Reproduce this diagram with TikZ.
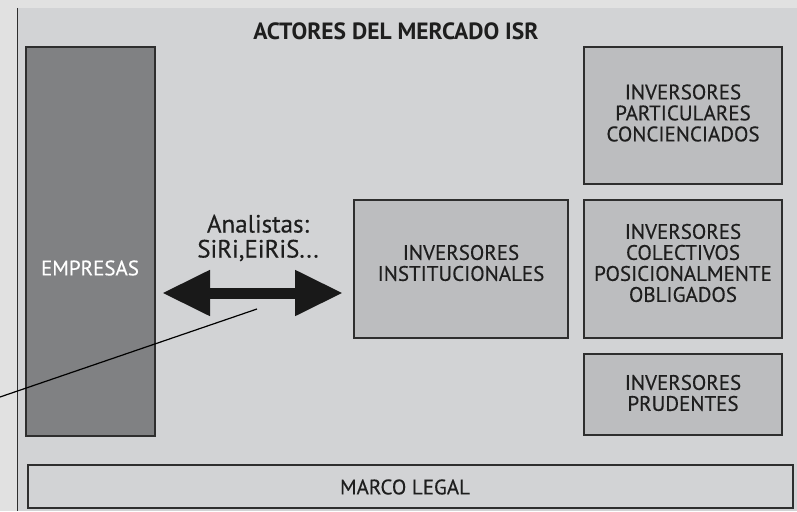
\documentclass[tikz,border=0pt]{standalone}
\usepackage{fontspec}
\setmainfont{PT Sans}
\newfontfamily\dinfont[FakeBold=0.35]{PT Sans}
\usetikzlibrary{arrows.meta}
\definecolor{outerbg}{HTML}{E1E1E1}
\definecolor{panelbg}{HTML}{D2D3D5}
\definecolor{darkbox}{HTML}{808183}
\definecolor{midbox}{HTML}{BCBDBF}
\definecolor{edge}{HTML}{2E2E2E}
\definecolor{ink}{HTML}{1E1E1E}
\tikzset{
  boxbase/.style={draw=edge, line width=1.6pt, inner sep=0pt, outer sep=0pt, anchor=north west},
  investor/.style={boxbase, fill=midbox},
  firmbox/.style={boxbase, fill=darkbox},
  legalbox/.style={boxbase, fill=panelbg},
  boxlabel/.style={text=ink, align=center, inner sep=0pt, font=\dinfont\fontsize{21}{21}\selectfont},
  bigarrow/.style={-{Triangle[length=48pt,width=43pt]}, line width=11pt, draw=black!90},
}
\begin{document}
\begin{tikzpicture}[x=1pt,y=-1pt]
\useasboundingbox (0,0) rectangle (797,511);
\fill[outerbg] (0,0) rectangle (797,511);
\fill[panelbg] (17,8) rectangle (797,511);
\draw[edge, line width=1.2pt] (17.3,8) -- (17.3,511);

\node[font=\bfseries\fontsize{23.5}{24}\selectfont, text=ink] (title) at (396,31) {ACTORES DEL MERCADO ISR};

\node[firmbox, minimum width=129pt, minimum height=389pt] (emp) at (26,47) {};
\node[boxlabel, text=white] (emptext) at (90,268) {EMPRESAS};

\node[investor, minimum width=214pt, minimum height=138pt] (inst) at (354,200) {};
\node[boxlabel] (insttext) at (461,263) {INVERSORES\\INSTITUCIONALES};

\node[investor, minimum width=198pt, minimum height=137pt] (part) at (584,47) {};
\node[boxlabel] (parttext) at (683,113) {INVERSORES\\PARTICULARES\\CONCIENCIADOS};

\node[investor, minimum width=198pt, minimum height=138pt] (col) at (584,200) {};
\node[boxlabel] (coltext) at (683,263) {INVERSORES\\COLECTIVOS\\POSICIONALMENTE\\OBLIGADOS};

\node[investor, minimum width=198pt, minimum height=81pt] (prud) at (584,354) {};
\node[boxlabel] (prudtext) at (683,393) {INVERSORES\\PRUDENTES};

\node[legalbox, minimum width=765pt, minimum height=43pt] (legal) at (28,465) {};
\node[boxlabel] (legaltext) at (405,487) {MARCO LEGAL};

\node[text=ink, align=center, inner sep=0pt, font=\dinfont\fontsize{25}{25}\selectfont] (anal) at (258,238) {Analistas:\\SiRi,EiRiS...};

\coordinate (al) at (162,293);
\coordinate (ar) at (343,293);
\coordinate (amid) at (252.5,293);
\draw[bigarrow] (amid) -- (ar);
\draw[bigarrow] (amid) -- (al);

\coordinate (lineend) at (0,397);
\coordinate (linestart) at (257,309);
\draw[black, line width=1.2pt] (linestart) -- (lineend);
\end{tikzpicture}
\end{document}
